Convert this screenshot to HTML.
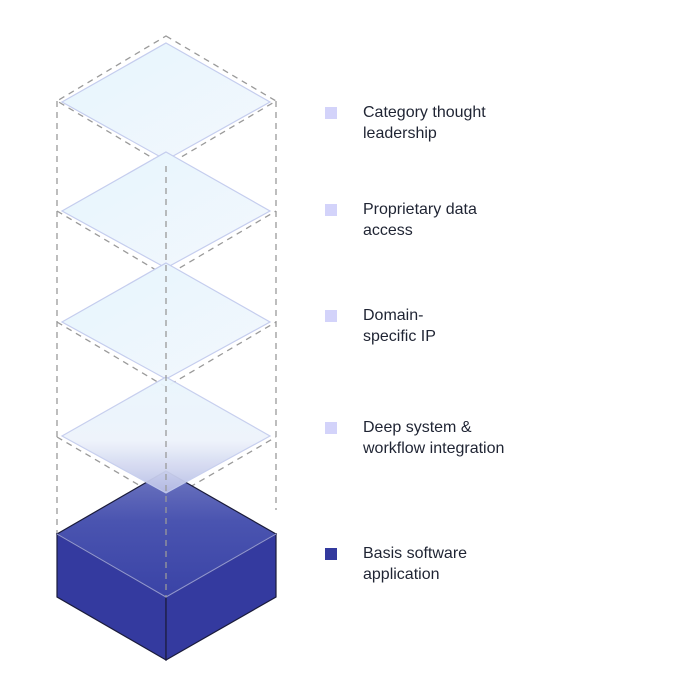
<!DOCTYPE html>
<html><head><meta charset="utf-8"><style>
html,body{margin:0;padding:0;background:#fff;}
body{width:675px;height:689px;position:relative;overflow:hidden;font-family:"Liberation Sans",sans-serif;}
.l{position:absolute;left:363px;font-size:16px;line-height:21px;color:#1f2433;}
.s{position:absolute;left:325px;width:12px;height:12px;background:#d3d3fa;}
</style></head><body>
<svg width="675" height="689" style="position:absolute;left:0;top:0">
<defs>
<linearGradient id="pl" x1="0" y1="0" x2="1" y2="1">
<stop offset="0" stop-color="#e6f6fd"/><stop offset="1" stop-color="#f3f7fd"/>
</linearGradient>
<linearGradient id="pl4" x1="0" y1="0" x2="0" y2="1">
<stop offset="0" stop-color="#e9f6fd"/><stop offset="0.55" stop-color="#eef3fb"/><stop offset="1" stop-color="#b7bde6"/>
</linearGradient>
<linearGradient id="top" x1="0" y1="0" x2="0" y2="1">
<stop offset="0" stop-color="#6e76c0"/><stop offset="0.4" stop-color="#4a54b0"/><stop offset="1" stop-color="#3a43a6"/>
</linearGradient>
</defs>
<g fill="none" stroke="#9a9a9a" stroke-width="1.3" stroke-dasharray="6 5">
<polygon points="166,36 276,101 166,166 57,101"/>
<polyline points="57,211 166,276 276,211"/>
<polyline points="57,322 166,387 276,322"/>
<polyline points="57,437 166,501 276,437"/>
<line x1="57" y1="101" x2="57" y2="534"/>
<line x1="276" y1="101" x2="276" y2="510"/>
</g>
<!-- cube -->
<polygon points="57,534 166,597 166,660 57,597" fill="#343a9f" stroke="#1a1b3a" stroke-width="1.2"/>
<polygon points="276,534 166,597 166,660 276,597" fill="#343a9f" stroke="#1a1b3a" stroke-width="1.2"/>
<polygon points="166,471 276,534 166,597 57,534" fill="url(#top)" stroke="#1a1b3a" stroke-width="1.2"/>
<polyline points="57,534 166,597 276,534" fill="none" stroke="#8d93d4" stroke-width="1.2"/>
<!-- planes -->
<polygon points="166,43 270,102 166,160 62,102" fill="url(#pl)" stroke="#c5cdee" stroke-width="1.2"/>
<polygon points="166,152 270,211 166,268 62,211" fill="url(#pl)" stroke="#c5cdee" stroke-width="1.2"/>
<polygon points="166,263 270,322 166,379 62,322" fill="url(#pl)" stroke="#c5cdee" stroke-width="1.2"/>
<polygon points="166,377 270,436 166,493 62,436" fill="url(#pl4)" stroke="#c5cdee" stroke-width="1.2" opacity="0.95"/>
<line x1="166" y1="166" x2="166" y2="597" stroke="#9a9a9a" stroke-width="1.3" stroke-dasharray="6 5"/>
</svg>
<div class="s" style="top:107px"></div><div class="l" style="top:102px">Category thought<br>leadership</div>
<div class="s" style="top:204px"></div><div class="l" style="top:199px">Proprietary data<br>access</div>
<div class="s" style="top:310px"></div><div class="l" style="top:305px">Domain-<br>specific IP</div>
<div class="s" style="top:422px"></div><div class="l" style="top:417px">Deep system &amp;<br>workflow integration</div>
<div class="s" style="top:548px;background:#333a9e"></div><div class="l" style="top:543px">Basis software<br>application</div>
</body></html>
